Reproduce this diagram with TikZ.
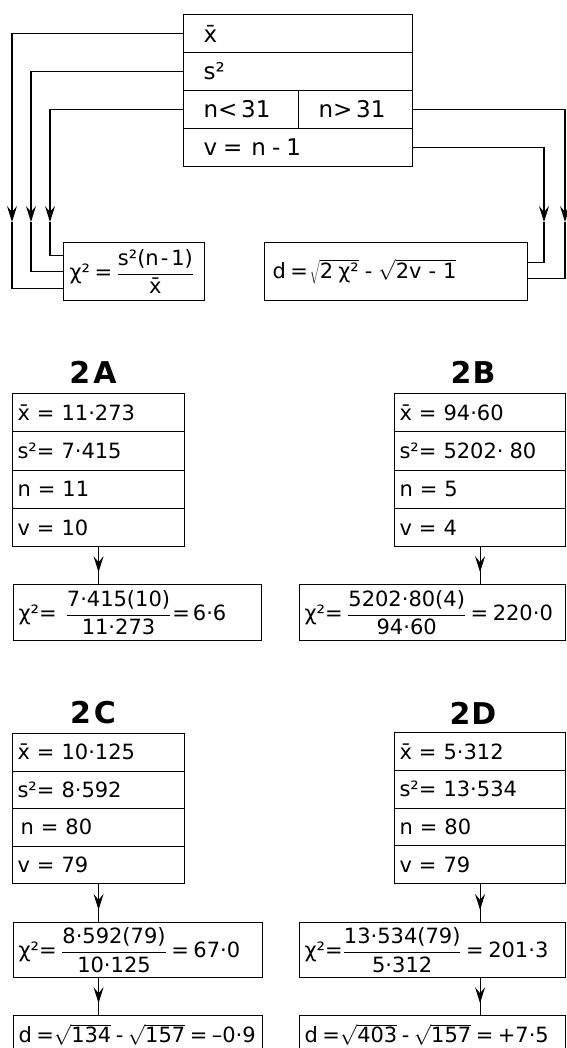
\documentclass[tikz,border=0pt]{standalone}
\usepackage{fontspec}
\setmainfont{DejaVu Sans}
\usetikzlibrary{arrows.meta,decorations.markings}
\newcommand\fr[2]{$\displaystyle\frac{\hbox{#1}}{\hbox{#2}}$}
\newcommand\rt[1]{$\sqrt{\hbox{\rule[-1pt]{0pt}{16.5pt}#1}}$}
\newcommand\g{\kern4.5pt}
\protected\def\fsBig{\fontsize{23}{27}\selectfont\fontdimen2\font=4.5pt\relax}
\protected\def\fsSmall{\fontsize{21}{25}\selectfont\fontdimen2\font=4pt\relax}
\tikzset{
  conn/.style={line width=1.1pt},
  arrowend/.style={-{Stealth[length=16pt,width=10pt,inset=6pt]}},
  midarrow/.style={postaction={decorate},decoration={markings,mark=at position #1 with {\arrow{Stealth[length=16pt,width=10pt,inset=6pt]}}}},
  cell/.style={draw,line width=1.1pt,anchor=north west,inner ysep=0pt,align=left},
  fsbig/.style={font=\fsBig},
  fssmall/.style={font=\fsSmall},
  ttl/.style={font=\fontsize{30}{34}\selectfont\bfseries},
  topcell/.style={cell,fsbig,inner xsep=20pt,minimum height=38pt},
  botcell/.style={cell,fssmall,inner xsep=5pt},
}
\begin{document}
\begin{tikzpicture}[x=1pt,y=-1pt]
\useasboundingbox (0,0) rectangle (566,1048);
\fill[white] (0,0) rectangle (566,1048);

% ---------- top scheme ----------
\node[topcell,text width=189pt] (tx) at (183,14) {\={x}};
\node[topcell,text width=189pt] (ts) at (183,52) {s²};
\node[topcell,text width=75pt] (tnl) at (183,90) {n<\,31};
\node[topcell,text width=74pt] (tng) at (298,90) {n>\,31};
\node[topcell,text width=189pt] (tv) at (183,128) {v\kern6pt=\kern9pt n\kern6pt-\kern6pt1};

\node[botcell,inner xsep=6pt,text width=129pt,minimum height=58pt] (chi) at (63,242)
  {\mbox{χ²\g=\g\fr{s²(n\kern2pt-\kern3pt1)}{\={x}}}};
\node[botcell,inner xsep=8pt,text width=247pt,minimum height=58pt] (dd) at (264,242)
  {\mbox{d\g=\kern2pt\rt{2\kern5ptχ²}\kern6pt-\kern6pt\rt{2v\kern7pt-\kern7pt1}}};

\coordinate (a1) at (12,222);
\coordinate (a2) at (31,222);
\coordinate (a3) at (50,222);
\coordinate (a4) at (544,222);
\coordinate (a5) at (565,222);

\draw[conn,arrowend] (tx.west) -| (a1);
\draw[conn] (a1) |- ([yshift=-17pt]chi.west);
\draw[conn,arrowend] (ts.west) -| (a2);
\draw[conn] (a2) |- (chi.west);
\draw[conn,arrowend] (tnl.west) -| (a3);
\draw[conn] (a3) |- ([yshift=16pt]chi.west);
\draw[conn,arrowend] (tng.east) -| (a5);
\draw[conn] (a5) |- ([yshift=-7pt]dd.east);
\draw[conn,arrowend] (tv.east) -| (a4);
\draw[conn] (a4) |- ([yshift=9pt]dd.east);

% ---------- 2A ----------
\node[ttl] (hA) at (93,372) {2\kern3pt A};
\node[botcell,text width=162pt,minimum height=38.25pt] (A1) at (12,393) {\={x} = 11·273};
\node[botcell,text width=162pt,minimum height=38.25pt] (A2) at (12,431.25) {s²= 7·415};
\node[botcell,text width=162pt,minimum height=38.25pt] (A3) at (12,469.5) {n = 11};
\node[botcell,text width=162pt,minimum height=38.25pt] (A4) at (12,507.75) {v = 10};
\node[botcell,text width=238pt,minimum height=56pt] (Ac) at (13,584)
  {\mbox{χ²=\g\g\fr{7·415(10)}{11·273}\kern1pt=\kern3pt6·6}};
\draw[conn,midarrow=0.68] (A4.south) -- (A4.south |- Ac.north);

% ---------- 2B ----------
\node[ttl] (hB) at (473,372) {2\kern1pt B};
\node[botcell,text width=161pt,minimum height=38.25pt] (B1) at (394,393) {\={x} = 94·60};
\node[botcell,text width=161pt,minimum height=38.25pt] (B2) at (394,431.25) {s²= 5202·\kern6pt80};
\node[botcell,text width=161pt,minimum height=38.25pt] (B3) at (394,469.5) {n = 5};
\node[botcell,text width=161pt,minimum height=38.25pt] (B4) at (394,507.75) {v = 4};
\node[botcell,text width=256pt,minimum height=56pt] (Bc) at (299,584)
  {\mbox{χ²=\g\fr{5202·80(4)}{94·60}\g=\g220·0}};
\draw[conn,midarrow=0.68] (B4.south) -- (B4.south |- Bc.north);

% ---------- 2C ----------
\node[ttl] (hC) at (93,713) {2\kern3pt C};
\node[botcell,text width=162pt,minimum height=37.5pt] (C1) at (12,733) {\={x} = 10·125};
\node[botcell,text width=162pt,minimum height=37.5pt] (C2) at (12,770.5) {s²= 8·592};
\node[botcell,text width=162pt,minimum height=37.5pt] (C3) at (12,808) {\hspace{3pt}n = 80};
\node[botcell,text width=162pt,minimum height=37.5pt] (C4) at (12,845.5) {v = 79};
\node[botcell,text width=239pt,minimum height=55pt] (Cc) at (13,922)
  {\mbox{χ²=\g\fr{8·592(79)}{10·125}\g=\g67·0}};
\node[botcell,text width=239pt,minimum height=38pt] (Cd) at (13,1015)
  {\mbox{d\g=\rt{134}\g-\g\rt{157}\g=\g–0·9}};
\draw[conn,midarrow=0.68] (C4.south) -- (C4.south |- Cc.north);
\draw[conn,midarrow=0.68] (Cc.south -| C4.south) -- (C4.south |- Cd.north);

% ---------- 2D ----------
\node[ttl] (hD) at (473,713) {2\kern1pt D};
\node[botcell,text width=161pt,minimum height=37.75pt] (D1) at (394,732) {\={x} = 5·312};
\node[botcell,text width=161pt,minimum height=37.75pt] (D2) at (394,769.75) {s²= 13·534};
\node[botcell,text width=161pt,minimum height=37.75pt] (D3) at (394,807.5) {n = 80};
\node[botcell,text width=161pt,minimum height=37.75pt] (D4) at (394,845.25) {v = 79};
\node[botcell,text width=256pt,minimum height=55pt] (Dc) at (299,922)
  {\mbox{χ²=\fr{13·534(79)}{5·312}\g=\g201·3}};
\node[botcell,text width=256pt,minimum height=38pt] (Dd) at (299,1015)
  {\mbox{d\g=\rt{403}\g-\g\rt{157}\g=\g+7·5}};
\draw[conn,midarrow=0.68] (D4.south) -- (D4.south |- Dc.north);
\draw[conn,midarrow=0.68] (Dc.south -| D4.south) -- (D4.south |- Dd.north);
\end{tikzpicture}
\end{document}
